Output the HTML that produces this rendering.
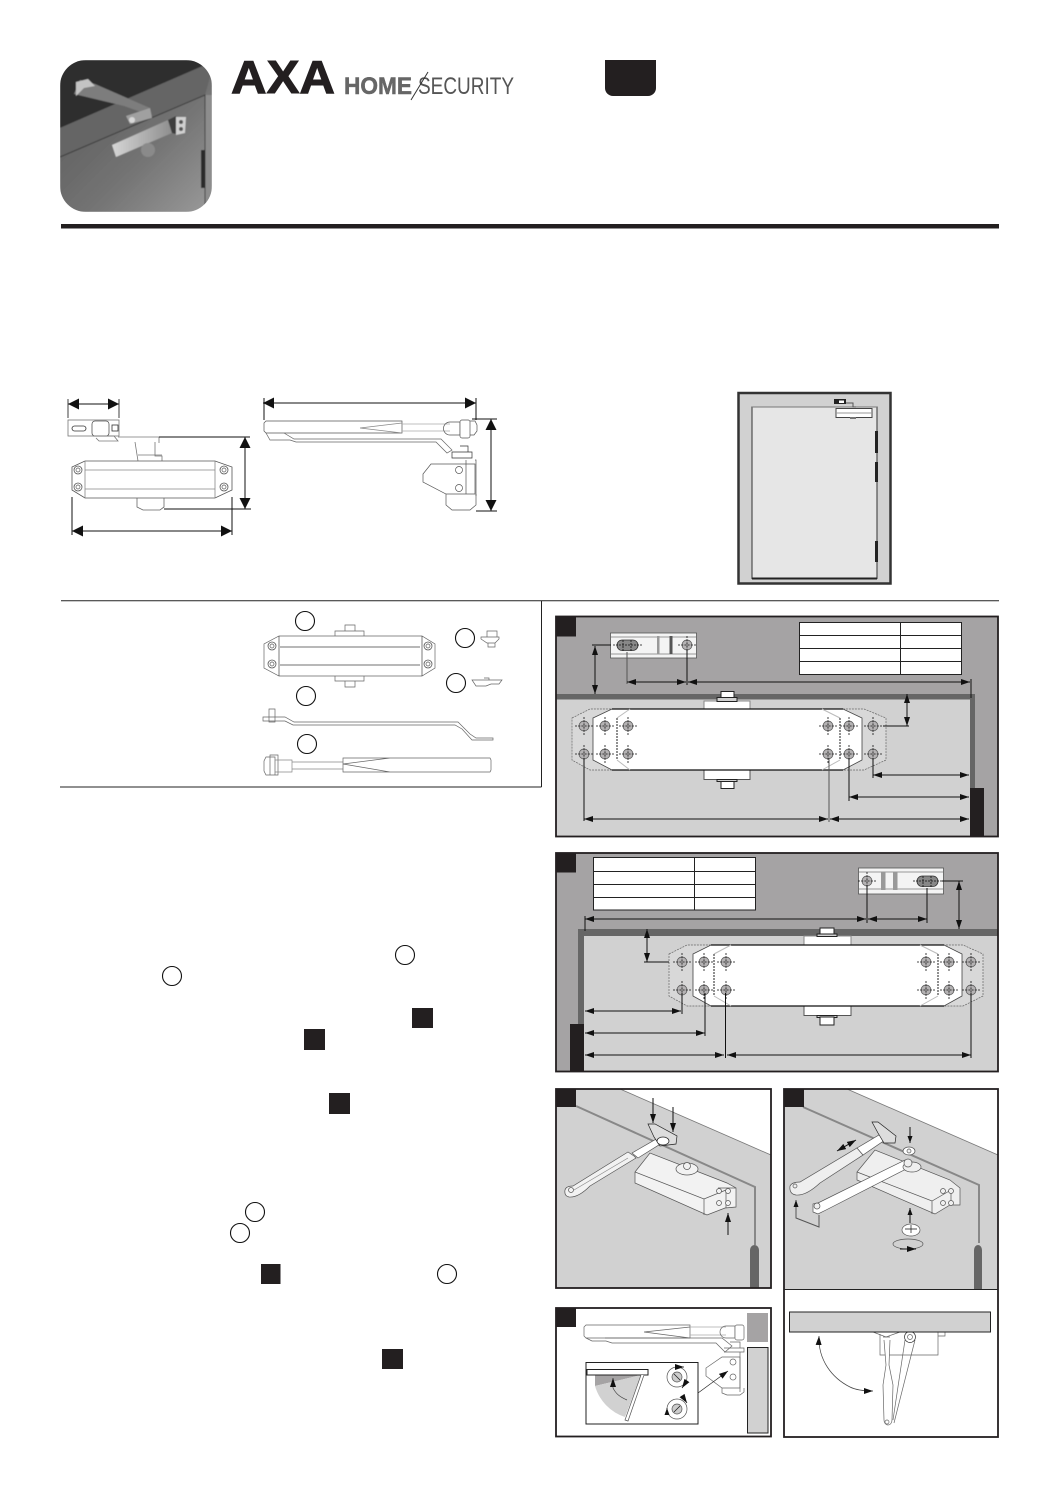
<!DOCTYPE html>
<html><head><meta charset="utf-8"><title>AXA Home Security door closer</title>
<style>html,body{margin:0;padding:0;background:#fff}svg{display:block}</style></head>
<body>
<svg xmlns="http://www.w3.org/2000/svg" width="1059" height="1498" viewBox="0 0 1059 1498">
<defs>
<marker id="a" viewBox="0 0 10 10" refX="10" refY="5" markerWidth="9" markerHeight="6" markerUnits="userSpaceOnUse" orient="auto-start-reverse" preserveAspectRatio="none"><path d="M0,0L10,5L0,10z" fill="#111"/></marker>
<marker id="b" viewBox="0 0 10 10" refX="10" refY="5" markerWidth="11" markerHeight="11" markerUnits="userSpaceOnUse" orient="auto-start-reverse" preserveAspectRatio="none"><path d="M0,0L10,5L0,10z" fill="#111"/></marker>
<marker id="c" viewBox="0 0 10 10" refX="10" refY="5" markerWidth="7" markerHeight="5" markerUnits="userSpaceOnUse" orient="auto-start-reverse" preserveAspectRatio="none"><path d="M0,0L10,5L0,10z" fill="#111"/></marker>
<g id="h"><circle r="5" fill="#b5b3b4" stroke="#555" stroke-width=".7"/><path d="M-9,0H9M0,-9V9" stroke="#111" stroke-width=".8" stroke-dasharray="2 1.2"/></g>
<g id="s"><circle r="4" fill="#fff" stroke="#555" stroke-width=".8"/><circle r="2" fill="none" stroke="#555" stroke-width=".7"/></g>
<clipPath id="ph"><rect x="60" y="60" width="152" height="152" rx="26"/></clipPath>
<linearGradient id="pg" x1="0" y1="0" x2="1" y2="1"><stop offset="0" stop-color="#555"/><stop offset=".6" stop-color="#747474"/><stop offset="1" stop-color="#9a9a9a"/></linearGradient>
<linearGradient id="bg" x1="0" y1="0" x2="1" y2="0"><stop offset="0" stop-color="#d6d6d6"/><stop offset="1" stop-color="#8e8e8e"/></linearGradient>
<filter id="bl"><feGaussianBlur stdDeviation=".6"/></filter>
</defs>
<rect width="1059" height="1498" fill="#fff"/>

<!-- photo -->
<g clip-path="url(#ph)"><g filter="url(#bl)">
<rect x="60" y="60" width="152" height="152" fill="url(#pg)"/>
<polygon points="60,60 212,60 212,62 60,128" fill="#2f2f2f"/>
<polygon points="60,128 212,62 212,70 205,95 60,157" fill="#656565"/>
<polygon points="205,95 212,95 212,212 205,212" fill="#8d8d8d"/>
<path d="M60,157L205,95V212" fill="none" stroke="#3d3d3d" stroke-width="1"/>
<polygon points="74,94 80,80 95,84 150,108 152,116 124,106" fill="#7d7d7d"/>
<polygon points="76,82 88,79 95,86 84,88 76,96" fill="#c4c4c4"/>
<polygon points="126,116 150,108 152,118 130,124" fill="#a0a0a0"/>
<circle cx="132" cy="120" r="3" fill="#d8d8d8"/>
<polygon points="112,145 168,120 172,133 116,157" fill="url(#bg)"/>
<polygon points="168,120 176,116 176,134 172,133" fill="#3c3c3c"/>
<polygon points="176,117 186,117 185,133 176,135" fill="#d0d0d0"/>
<circle cx="181" cy="122" r="2" fill="#555"/><circle cx="181" cy="129" r="2" fill="#555"/>
<circle cx="148" cy="150" r="7" fill="#8a8a8a"/>
<rect x="201" y="150" width="4" height="38" fill="#2b2b2b"/>
</g></g>

<!-- logo -->
<text x="231" y="93" font-family="Liberation Sans, sans-serif" font-weight="bold" font-size="46" textLength="104" lengthAdjust="spacingAndGlyphs" fill="#231f20" stroke="#231f20" stroke-width="1">AXA</text>
<text x="344" y="94" font-family="Liberation Sans, sans-serif" font-weight="bold" font-size="24" textLength="68" lengthAdjust="spacingAndGlyphs" fill="#666" stroke="#666" stroke-width=".5">HOME</text>
<text x="418" y="94" font-family="Liberation Sans, sans-serif" font-size="24" textLength="96" lengthAdjust="spacingAndGlyphs" fill="#555">SECURITY</text>
<path d="M411,100L428,72" stroke="#333" stroke-width="1"/>
<path d="M605,60H656V88a8,8 0 0 1 -8,8H613a8,8 0 0 1 -8,-8z" fill="#231f20"/>
<rect x="61" y="224" width="938" height="4.500" fill="#231f20"/>

<!-- top dims left -->
<g fill="none" stroke="#333" stroke-width=".8">
<path d="M68,399V418M119,399V418" stroke="#111"/>
<rect x="68" y="420" width="51" height="16" stroke="#777"/>
<rect x="72" y="426" width="14" height="5" rx="2.500"/>
<rect x="92" y="421" width="17" height="15" rx="3" fill="#fff" stroke="#555"/>
<rect x="112" y="425" width="6" height="6"/>
<path d="M93,436H114L118,441H99L96,438M118,437H159V443" stroke="#777"/>
<path d="M135,442L138,461M155,442V456H162V461M138,455H162" stroke="#777"/>
<path d="M85,461H215L232,467V490L215,498H85L72,490V467z" stroke="#555"/>
<path d="M85,461V498M215,461V498M85,470H215M85,489H215" stroke="#888"/>
<use href="#s" x="78" y="470"/><use href="#s" x="78" y="487"/><use href="#s" x="224" y="470"/><use href="#s" x="224" y="487"/>
<path d="M137,498V507L143,510H160L164,507V498" stroke="#666"/>
</g>
<path d="M159,437H250M164,509H251M72,497V535M232,497V535" stroke="#111" stroke-width="1" fill="none"/>
<path d="M68,404H119" stroke="#111" stroke-width="1" marker-start="url(#b)" marker-end="url(#b)"/>
<path d="M245,437V509" stroke="#111" stroke-width="1" marker-start="url(#b)" marker-end="url(#b)"/>
<path d="M72,531H232" stroke="#111" stroke-width="1" marker-start="url(#b)" marker-end="url(#b)"/>

<!-- top dims right -->
<g fill="none" stroke="#555" stroke-width=".7">
<path d="M266,421H402V433H266L264,431V423z"/>
<path d="M360,428L402,423M360,428L402,433" stroke="#888"/>
<path d="M402,424H450M402,431H450" stroke="#aaa"/>
<path d="M450,422H460V435H450A6,6 0 0 1 450,422z"/>
<rect x="460" y="420" width="10" height="18" rx="2" fill="#fff"/>
<path d="M470,421H475L477,425V431L474,435H470"/>
<path d="M266,433L270,440H290L296,442H436L447,453L452,450L441,439H294L284,433" stroke="#666"/>
<path d="M452,452H472V458H452z M460,446H468V452" stroke="#333"/>
<path d="M446,464H475V494H446L423,482V474L431,464z"/>
<path d="M466,460V494M475,460H476V496" />
<circle cx="459" cy="470" r="3.500"/><circle cx="459" cy="488" r="3.500"/>
<path d="M446,494V505L452,510H470L476,505V494"/>
<path d="M264,398V420M476,398V420" stroke="#111" stroke-width="1"/>
<path d="M472,419H497M476,511H497" stroke="#111" stroke-width="1"/>
</g>
<path d="M263,403H476" stroke="#111" stroke-width="1" marker-start="url(#b)" marker-end="url(#b)"/>
<path d="M491,419V511" stroke="#111" stroke-width="1" marker-start="url(#b)" marker-end="url(#b)"/>

<!-- door -->
<rect x="738.500" y="393" width="152" height="190.500" fill="#d1d1d1" stroke="#333" stroke-width="2.500"/>
<rect x="752" y="407" width="125" height="171.500" fill="#e6e6e6" stroke="#333" stroke-width="1"/>
<path d="M752,578.500H877" stroke="#222" stroke-width="2"/>
<path d="M752,407H877" stroke="#777" stroke-width="1"/>
<rect x="875" y="431" width="3" height="22" fill="#222"/><rect x="875" y="462" width="3" height="20" fill="#222"/><rect x="875" y="541" width="3" height="21" fill="#222"/>
<rect x="834" y="399" width="12" height="5" fill="#222"/><rect x="839" y="400.500" width="5" height="2.500" fill="#fff"/>
<path d="M846,403H853V407H856" stroke="#555" fill="none"/>
<rect x="836" y="408.500" width="36" height="9" fill="#fff" stroke="#444"/>
<path d="M836,413H872" stroke="#999"/><rect x="850" y="417" width="6" height="2" fill="#777"/>

<!-- divider lines -->
<path d="M61,600.700H999M541.500,601V787M60,787H541.500" stroke="#222" stroke-width="1" fill="none"/>

<!-- parts -->
<g fill="none" stroke="#666" stroke-width=".7">
<circle cx="305" cy="621" r="9.500" stroke="#111" stroke-width="1.100"/>
<circle cx="465" cy="638" r="9.500" stroke="#111" stroke-width="1.100"/>
<circle cx="456" cy="683" r="9.500" stroke="#111" stroke-width="1.100"/>
<circle cx="306" cy="696" r="9.500" stroke="#111" stroke-width="1.100"/>
<circle cx="307" cy="744" r="9.500" stroke="#111" stroke-width="1.100"/>
<path d="M279,636H422L435,644V668L422,676H279L264,668V644z"/>
<path d="M279,636V676M422,636V676M280,647H420M280,665H420" stroke="#444"/>
<use href="#s" x="272" y="646"/><use href="#s" x="272" y="664"/><use href="#s" x="428" y="646"/><use href="#s" x="428" y="664"/>
<path d="M335,636V631H364V636M345,631V625H355V631M335,676V681H364V676M345,681V687H355V681"/>
<path d="M487,631H497V637H487zM481,637H499V639L495,643H487L481,639zM488,643V647H495V643"/>
<path d="M472,680H502L499,684H491L486,686H476z M484,678H489V680"/>
<path d="M263,717H285L294,722H458L470,734L476,738H493V740H472L462,729L455,725H293L285,721H263zM269,709H275V722H269z"/>
<path d="M266,757H275V775H266L264,771V761zM270,755H278V775H270z"/>
<path d="M275,760H292V772H275M292,762H343M292,769H343" stroke="#888"/>
<path d="M343,758H490L491,760V770L490,772H343zM343,764L390,758M343,764L390,772" />
</g>

<!-- panel 1 -->
<rect x="556" y="616.500" width="442" height="220" fill="#a5a3a4"/>
<rect x="556" y="699" width="414" height="137" fill="#d1d1d1"/>
<rect x="556" y="694" width="419" height="5.500" fill="#666"/>
<rect x="970" y="699" width="5" height="90" fill="#666"/>
<rect x="970" y="788" width="14" height="48" fill="#231f20"/>
<rect x="556" y="616.500" width="442" height="220" fill="none" stroke="#231f20" stroke-width="1.800"/>
<rect x="556" y="616.500" width="20" height="20" fill="#231f20"/>
<g fill="#fff" stroke="#222" stroke-width="1">
<rect x="799.500" y="622.500" width="162" height="52"/>
<path d="M900.500,622.500V674.500M799.500,635.500H961.500M799.500,648.500H961.500M799.500,661.500H961.500" fill="none"/>
<rect x="704" y="701" width="46" height="9" stroke="#888"/><rect x="717" y="697.500" width="20" height="4" fill="#d1d1d1"/><rect x="721" y="691.500" width="13" height="6"/>
<rect x="704" y="770" width="46" height="9.500" stroke="#555"/><rect x="717" y="779.500" width="20" height="2" fill="#d1d1d1"/><rect x="721" y="781.500" width="13" height="7"/>
</g>
<polygon points="572,718 590,709 864,709 886,718 886,760 864,770 590,770 572,760" fill="#d8d8d8" stroke="#666" stroke-width=".7" stroke-dasharray="2 1"/>
<polygon points="593,718 612,709 843,709 862,718 862,760 843,770 612,770 593,760" fill="#fff" stroke="#444" stroke-width=".8"/>
<path d="M612,709H843M612,770H843" stroke="#111" stroke-width="1.200"/>
<path d="M617,718L630,709M617,760L630,770M840,718L822,709M840,760L822,770" stroke="#bbb" fill="none"/>
<path d="M617,718V760M840,718V760" stroke="#222" stroke-dasharray="2 1" fill="none"/>
<use href="#h" x="584" y="726"/><use href="#h" x="605" y="726"/><use href="#h" x="628" y="726"/><use href="#h" x="828" y="726"/><use href="#h" x="849" y="726"/><use href="#h" x="873" y="726"/>
<use href="#h" x="584" y="754"/><use href="#h" x="605" y="754"/><use href="#h" x="628" y="754"/><use href="#h" x="828" y="754"/><use href="#h" x="849" y="754"/><use href="#h" x="873" y="754"/>
<!-- bracket 1 -->
<rect x="610.500" y="633" width="86" height="25" fill="#f4f4f4" stroke="#555" stroke-width=".8"/>
<path d="M611,637H696M611,654H696" stroke="#999"/>
<rect x="617" y="640" width="21" height="10.500" rx="5.200" fill="#888" stroke="#333" stroke-width=".8"/>
<path d="M613,645H642M623,640V651M631,640V651" stroke="#111" stroke-width=".8" stroke-dasharray="2 1"/>
<rect x="657" y="636" width="2.500" height="18" fill="#999"/><rect x="669.500" y="636" width="3" height="18" fill="#555"/>
<use href="#h" x="687" y="645"/>
<g fill="none" stroke="#111" stroke-width="1">
<path d="M592,645H611"/><path d="M627,652V684" stroke="#555"/><path d="M687,650V685"/><path d="M971,679V698"/>
<path d="M883,726H909"/><path d="M873,758V778"/><path d="M849,758V801"/><path d="M584,758V821"/><path d="M829,758V822" stroke="#555"/>
</g>
<g stroke="#111" stroke-width="1">
<path d="M595,646V694" marker-start="url(#a)" marker-end="url(#a)"/>
<path d="M627,682H686" marker-start="url(#a)" marker-end="url(#a)"/>
<path d="M688,682H970" marker-start="url(#a)" marker-end="url(#a)"/>
<path d="M907,694V726" marker-start="url(#a)" marker-end="url(#a)"/>
<path d="M873,775H969" marker-start="url(#a)" marker-end="url(#a)"/>
<path d="M849,797H969" marker-start="url(#a)" marker-end="url(#a)"/>
<path d="M584,819H828" marker-start="url(#a)" marker-end="url(#a)"/>
<path d="M830,819H969" marker-start="url(#a)" marker-end="url(#a)"/>
</g>

<!-- panel 2 -->
<rect x="556" y="853" width="442" height="218.500" fill="#a5a3a4"/>
<rect x="584" y="936" width="414" height="135.500" fill="#d1d1d1"/>
<rect x="578" y="929" width="420" height="7" fill="#666"/>
<rect x="578" y="929" width="6" height="96" fill="#666"/>
<rect x="570" y="1024" width="14" height="47.500" fill="#231f20"/>
<rect x="556" y="853" width="442" height="218.500" fill="none" stroke="#231f20" stroke-width="1.800"/>
<rect x="556" y="853" width="20" height="19.500" fill="#231f20"/>
<g fill="#fff" stroke="#222" stroke-width="1">
<rect x="593.500" y="857.500" width="162" height="52.500"/>
<path d="M694.500,857.500V910M593.500,871.500H755.500M593.500,884.500H755.500M593.500,897.500H755.500" fill="none"/>
<rect x="804" y="936" width="47" height="9.500" stroke="#888"/><rect x="817" y="934" width="20" height="2.500" fill="#d1d1d1"/><rect x="820" y="928" width="14" height="6"/>
<rect x="804" y="1006" width="47" height="9.500" stroke="#555"/><rect x="817" y="1015.500" width="20" height="2" fill="#d1d1d1"/><rect x="820" y="1017" width="14" height="8"/>
</g>
<polygon points="669,954 687,945 963,945 983,954 983,996 963,1006 687,1006 669,996" fill="#d8d8d8" stroke="#666" stroke-width=".7" stroke-dasharray="2 1"/>
<polygon points="693,954 711,945 944,945 962,954 962,996 944,1006 711,1006 693,996" fill="#fff" stroke="#444" stroke-width=".8"/>
<path d="M711,945H944M711,1006H944" stroke="#111" stroke-width="1.200"/>
<path d="M714,954L731,945M714,996L731,1006M938,954L920,945M938,996L920,1006" stroke="#bbb" fill="none"/>
<path d="M714,954V996M938,954V996" stroke="#222" stroke-dasharray="2 1" fill="none"/>
<use href="#h" x="682" y="962"/><use href="#h" x="704" y="962"/><use href="#h" x="726" y="962"/><use href="#h" x="926" y="962"/><use href="#h" x="949" y="962"/><use href="#h" x="971" y="962"/>
<use href="#h" x="682" y="990"/><use href="#h" x="704" y="990"/><use href="#h" x="726" y="990"/><use href="#h" x="926" y="990"/><use href="#h" x="949" y="990"/><use href="#h" x="971" y="990"/>
<!-- bracket 2 -->
<rect x="858.500" y="868" width="85" height="26" fill="#f4f4f4" stroke="#555" stroke-width=".8"/>
<path d="M859,872H943M859,889H943" stroke="#999"/>
<use href="#h" x="867" y="881"/>
<rect x="881" y="872" width="4.500" height="18" fill="#999"/><rect x="893" y="872" width="4.500" height="18" fill="#999"/>
<rect x="917" y="876" width="21" height="10.500" rx="5.200" fill="#888" stroke="#333" stroke-width=".8"/>
<path d="M913,881H942M923,876V887M931,876V887" stroke="#111" stroke-width=".8" stroke-dasharray="2 1"/>
<g fill="none" stroke="#111" stroke-width="1">
<path d="M585,916V931"/><path d="M867,885V923"/><path d="M927,888V923"/><path d="M942,881H963"/><path d="M644,962H669"/>
<path d="M682,993V1014"/><path d="M705,993V1036"/><path d="M725.500,993V1058"/><path d="M971,993V1058"/>
</g>
<g stroke="#111" stroke-width="1">
<path d="M585,919H866" marker-start="url(#a)" marker-end="url(#a)"/>
<path d="M868,919H927" marker-start="url(#a)" marker-end="url(#a)"/>
<path d="M959,881V929" marker-start="url(#a)" marker-end="url(#a)"/>
<path d="M647,929V962" marker-start="url(#a)" marker-end="url(#a)"/>
<path d="M585,1011H681" marker-start="url(#a)" marker-end="url(#a)"/>
<path d="M585,1033H705" marker-start="url(#a)" marker-end="url(#a)"/>
<path d="M585,1055H724" marker-start="url(#a)" marker-end="url(#a)"/>
<path d="M727,1055H971" marker-start="url(#a)" marker-end="url(#a)"/>
</g>

<!-- panel 3 -->
<rect x="556" y="1089" width="215" height="199" fill="#d1d1d1"/>
<polygon points="620,1089 771,1089 771,1155" fill="#fff"/>
<path d="M620,1089L771,1155" stroke="#777" stroke-width=".8"/>
<path d="M576,1106L755,1187V1245" fill="none" stroke="#888" stroke-width="2"/>
<path d="M750,1288V1250a4.500,5 0 0 1 9,0V1288z" fill="#666"/>
<rect x="556" y="1089" width="215" height="199" fill="none" stroke="#231f20" stroke-width="1.800"/>
<rect x="556" y="1089" width="20" height="18" fill="#231f20"/>
<g stroke="#555" stroke-width=".7" fill="#f2f2f2">
<polygon points="635,1172 650,1153 727,1183 736,1188 736,1207 725,1208 707,1215 635,1183"/>
<path d="M635,1172L704,1199L726,1190M704,1199V1215M726,1190V1208M718,1188L736,1188" fill="none"/>
<ellipse cx="687" cy="1169" rx="11" ry="6"/><circle cx="687" cy="1166" r="3.500"/>
<circle cx="719" cy="1191" r="2.500"/><circle cx="719" cy="1203" r="2.500"/><circle cx="728" cy="1191" r="2.500"/><circle cx="728" cy="1203" r="2.500"/>
<path d="M565,1190Q566,1186 573,1186L628,1152L634,1156L636,1158L590,1186Q578,1198 569,1197Q564,1196 565,1190z"/>
<path d="M574,1190L628,1158" fill="none" stroke="#888"/>
<polygon points="632,1153 658,1138 662,1143 638,1158" fill="#fff"/>
<circle cx="571" cy="1190" r="2.500"/>
<polygon points="648,1124 655,1124 677,1136 676,1144 660,1146 654,1137" fill="#ddd" stroke="#222"/>
<ellipse cx="663" cy="1141" rx="6" ry="4" fill="#fff" stroke="#222"/>
</g>
<g stroke="#111" stroke-width="1" fill="none">
<path d="M653,1098V1123" marker-end="url(#a)"/>
<path d="M673,1107V1132" marker-end="url(#a)"/>
<path d="M728,1235V1213" marker-end="url(#a)"/>
</g>

<!-- panel 4 -->
<rect x="784" y="1089" width="214" height="200" fill="#d1d1d1"/>
<polygon points="847,1089 998,1089 998,1155" fill="#fff"/>
<path d="M847,1089L998,1155" stroke="#777" stroke-width=".8"/>
<path d="M803,1107L979,1185V1243" fill="none" stroke="#888" stroke-width="2"/>
<path d="M974,1289V1250a4,5 0 0 1 8,0V1289z" fill="#666"/>
<rect x="784" y="1289" width="214" height="148" fill="#fff"/>
<rect x="784" y="1089" width="214" height="348" fill="none" stroke="#231f20" stroke-width="1.800"/>
<path d="M784,1289.500H998" stroke="#222" stroke-width="1"/>
<rect x="784" y="1089" width="20" height="18" fill="#231f20"/>
<g stroke="#555" stroke-width=".7" fill="#efefef">
<polygon points="857,1172 875,1150 950,1180 960,1188 960,1205 950,1205 935,1214 857,1180"/>
<path d="M857,1172L932,1201L951,1190M932,1201V1214M951,1190V1205" fill="none"/>
<circle cx="943" cy="1191" r="2.500"/><circle cx="943" cy="1203" r="2.500"/><circle cx="951" cy="1191" r="2.500"/><circle cx="951" cy="1203" r="2.500"/>
<path d="M790,1186Q792,1182 800,1182L857,1148L863,1155L820,1183Q806,1196 796,1195Q789,1194 790,1186z"/>
<circle cx="795" cy="1186" r="2"/>
<polygon points="857,1148 884,1132 888,1138 863,1155" fill="#fff"/>
<polygon points="872,1122 878,1122 896,1136 895,1143 884,1143 878,1133" fill="#ddd" stroke="#222"/>
<polygon points="813,1204 818,1203 905,1160 912,1166 826,1210 818,1214 813,1212" fill="#fff"/>
<circle cx="817" cy="1206" r="3"/>
<ellipse cx="912" cy="1167" rx="9" ry="5"/><circle cx="908" cy="1163" r="4"/>
<ellipse cx="909" cy="1151" rx="6" ry="4" fill="#fff"/><circle cx="909" cy="1151" r="2"/>
<ellipse cx="911" cy="1230" rx="9" ry="6" fill="#fff"/>
<path d="M905,1229H917M911,1225V1233" stroke="#111"/>
</g>
<ellipse cx="908" cy="1244" rx="15" ry="5" fill="none" stroke="#555" stroke-width=".7"/>
<g stroke="#111" stroke-width="1" fill="none">
<path d="M837,1151L856,1140" marker-start="url(#a)" marker-end="url(#a)"/>
<path d="M910,1127V1143" marker-end="url(#c)"/>
<path d="M910,1223V1208" marker-end="url(#c)"/>
<path d="M900,1249H916" marker-end="url(#a)"/>
<path d="M819,1215V1227L796,1218V1200" stroke="#555" marker-end="url(#c)"/>
</g>
<!-- lower panel 4 -->
<g fill="none" stroke="#666" stroke-width=".7">
<path d="M873,1332L886,1337L900,1332M880,1334V1355H938V1332M945,1332V1336H938"/>
<path d="M884,1340L886,1365L883,1385L884,1420A4,5 0 0 0 892,1420L893,1385L889,1365L890,1340M883,1337H890" fill="#fff"/>
<path d="M905,1340L893,1420M915,1340L894,1423" fill="#fff"/>
<circle cx="910" cy="1337" r="5.500" fill="#fff" stroke="#333"/><circle cx="910" cy="1337" r="2.500"/>
<circle cx="887" cy="1422" r="2"/>
</g>
<rect x="789.500" y="1312" width="201" height="20" fill="#d1d1d1" stroke="#222" stroke-width="1"/>
<path d="M819,1336C818,1360 832,1378 850,1387C858,1391 868,1391 873,1391" fill="none" stroke="#444" stroke-width=".7" marker-start="url(#a)" marker-end="url(#a)"/>

<!-- panel 5 -->
<rect x="556" y="1308" width="215" height="128.500" fill="#fff" stroke="#231f20" stroke-width="1.800"/>
<rect x="556" y="1308" width="20" height="19" fill="#231f20"/>
<rect x="747" y="1313" width="21" height="29" fill="#a5a3a4"/>
<rect x="747.500" y="1347.500" width="20.500" height="85.500" fill="#d1d1d1" stroke="#222" stroke-width="1"/>
<g fill="none" stroke="#666" stroke-width=".7">
<path d="M586,1325H690V1338H586L584,1336V1327z"/>
<path d="M644,1332L690,1327M644,1332L690,1338"/>
<path d="M690,1327H726M690,1335H726" stroke="#aaa"/>
<path d="M726,1326H735V1338H726A6,6 0 0 1 726,1326z"/>
<rect x="735" y="1325" width="9" height="15" rx="2" fill="#fff"/>
<path d="M586,1338L592,1341H606L612,1343H716L725,1352L732,1346L722,1338H605"/>
<path d="M724,1348H744V1352H724M730,1342H740V1348"/>
<path d="M722,1357H740V1388H722L706,1376V1368z"/>
<path d="M740,1352V1392M722,1388V1393L727,1395H740L744,1392V1388"/>
<circle cx="733" cy="1362" r="3"/><circle cx="733" cy="1377" r="3"/>
</g>
<rect x="586" y="1362.500" width="112" height="61.500" fill="#fff" stroke="#222" stroke-width="1"/>
<path d="M641,1375H595L595,1386z" fill="#a5a3a4"/>
<path d="M641,1375L595,1386A46,46 0 0 0 625,1417z" fill="#d1d1d1"/>
<rect x="587" y="1369.500" width="61" height="5.500" fill="#fff" stroke="#222" stroke-width="1"/>
<path d="M641,1375L625,1420L628,1421L644,1375" fill="#fff" stroke="#555" stroke-width=".7"/>
<path d="M627,1400C620,1397 616,1394 613,1388L613,1378" fill="none" stroke="#444" stroke-width=".7" marker-end="url(#a)"/>
<g fill="none" stroke="#555" stroke-width=".7">
<circle cx="677" cy="1377" r="5" fill="#ccc"/><circle cx="677" cy="1409" r="5" fill="#ccc"/>
<circle cx="677" cy="1377" r="10"/><circle cx="677" cy="1409" r="10"/>
<path d="M674,1374L680,1380M674,1412L680,1406" stroke="#111"/>
<path d="M677,1367H684" stroke="#111" marker-end="url(#a)"/>
<path d="M686,1382L682,1388" stroke="#111" marker-end="url(#a)"/>
<path d="M683,1397L687,1403" stroke="#111" marker-end="url(#a)"/>
<path d="M667,1414V1408" stroke="#111" marker-end="url(#c)"/>
<path d="M698,1393L728,1371" stroke="#222" marker-end="url(#a)"/>
</g>

<!-- text page markers -->
<g fill="none" stroke="#111" stroke-width="1.100">
<circle cx="405" cy="955" r="9.500"/><circle cx="172" cy="976" r="9.500"/>
<circle cx="255" cy="1212" r="9.500"/><circle cx="240" cy="1233" r="9.500"/><circle cx="447" cy="1274" r="9.500"/>
</g>
<g fill="#231f20">
<rect x="412" y="1008" width="21" height="20"/><rect x="304" y="1029" width="21" height="21"/>
<rect x="329" y="1093" width="21" height="21"/><rect x="261" y="1264" width="19.500" height="20"/><rect x="382" y="1349" width="21" height="20"/>
</g>
</svg>
</body></html>
